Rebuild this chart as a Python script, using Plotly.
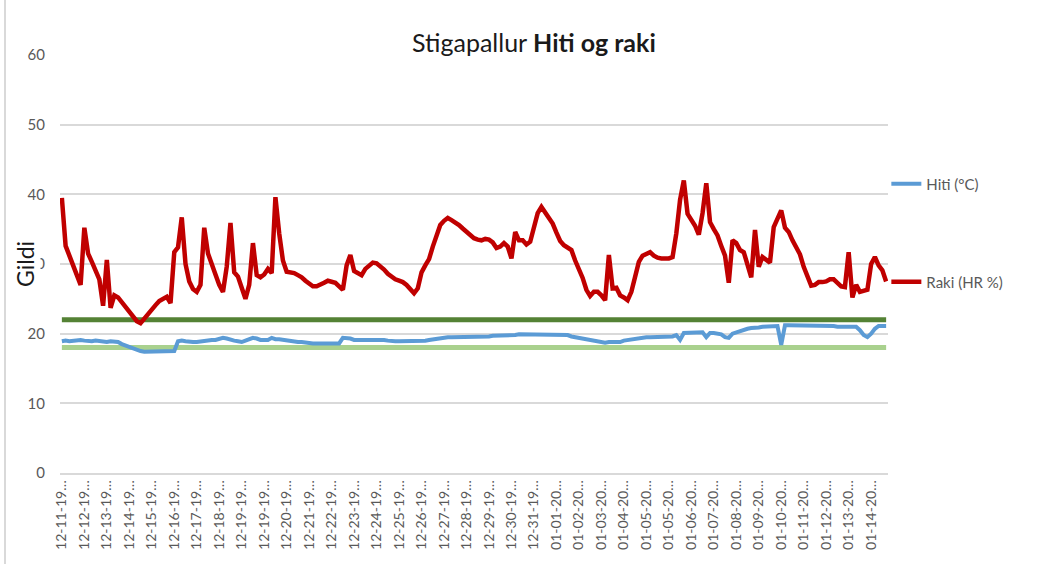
import plotly.graph_objects as go

# Category tick labels (one every 6 readings, as shown on the axis)
date_labels = [
    "12-11-19", "12-12-19", "12-13-19", "12-14-19", "12-15-19", "12-16-19",
    "12-17-19", "12-18-19", "12-19-19", "12-19-19", "12-20-19", "12-21-19",
    "12-22-19", "12-23-19", "12-24-19", "12-25-19", "12-26-19", "12-27-19",
    "12-28-19", "12-29-19", "12-30-19", "12-31-19", "01-01-20", "01-02-20",
    "01-03-20", "01-04-20", "01-05-20", "01-05-20", "01-06-20", "01-07-20",
    "01-08-20", "01-09-20", "01-10-20", "01-11-20", "01-12-20", "01-13-20",
    "01-14-20",
]
label_step = 6

# Raki (HR %)
raki = [
    39.5, 32.6, 31.2, 29.8, 28.4, 27.0, 35.2, 31.5, 30.3, 29.2,
    27.8, 24.0, 30.6, 23.7, 25.5, 25.2, 24.5, 23.9, 23.2, 22.5,
    21.8, 21.5, 22.2, 22.8, 23.4, 24.1, 24.7, 25.1, 25.3, 24.4,
    31.7, 32.4, 36.7, 30.0, 27.5, 26.4, 26.0, 27.0, 35.2, 31.5,
    29.8, 28.5, 27.0, 26.0, 29.6, 35.9, 28.8, 28.2, 26.6, 25.0,
    27.0, 33.0, 28.4, 28.1, 28.5, 29.3, 28.7, 39.6, 34.4, 30.5,
    28.9, 28.8, 28.7, 28.4, 28.1, 27.6, 27.2, 26.8, 26.8, 27.0,
    27.3, 27.6, 27.5, 27.3, 26.8, 26.3, 29.8, 31.3, 29.0, 28.7,
    28.4, 29.3, 29.8, 30.2, 30.1, 29.7, 29.2, 28.6, 28.2, 27.8,
    27.6, 27.4, 27.0, 26.5, 25.8, 26.5, 28.8, 29.8, 30.7, 32.5,
    34.0, 35.6, 36.2, 36.6, 36.3, 36.0, 35.6, 35.1, 34.6, 34.0,
    33.7, 33.5, 33.4, 33.6, 33.5, 33.1, 32.3, 32.5, 33.0, 32.5,
    30.8, 34.6, 33.4, 33.4, 32.8, 33.2, 35.5, 37.3, 38.2, 37.4,
    36.7, 35.8, 34.5, 33.3, 32.7, 32.3, 32.0, 30.5, 29.4, 28.0,
    26.3, 25.4, 26.0, 26.0, 25.5, 24.8, 31.3, 26.5, 26.6, 25.5,
    25.2, 24.8, 26.0, 28.5, 30.3, 31.2, 31.5, 31.7, 31.2, 30.9,
    30.8, 30.8, 30.8, 31.0, 34.4, 39.2, 42.0, 37.2, 36.4, 35.5,
    34.2, 37.3, 41.6, 36.0, 35.0, 34.1, 32.6, 31.2, 27.3, 33.4,
    33.0, 32.0, 31.7, 29.6, 28.1, 34.9, 29.6, 31.0, 30.6, 30.2,
    35.3, 36.7, 37.7, 35.2, 34.6, 33.4, 32.4, 31.4, 29.6, 28.0,
    26.9, 27.0, 27.4, 27.4, 27.5, 27.8, 27.8, 27.3, 26.8, 26.7,
    31.7, 25.2, 27.0, 26.0, 26.1, 26.3, 30.0, 31.0, 29.8, 29.1,
    27.5,
]

# Hiti (°C)
hiti = [
    18.9, 19.0, 18.9, 19.0, 19.1, 19.1, 19.0, 18.9, 18.9, 19.0,
    18.9, 18.8, 18.8, 18.9, 18.8, 18.8, 18.5, 18.3, 18.1, 17.9,
    17.6, 17.5, 17.4, 17.4, 17.4, 17.5, 17.4, 17.4, 17.5, 17.5,
    17.5, 18.9, 19.0, 18.9, 18.8, 18.8, 18.8, 18.9, 19.0, 19.1,
    19.1, 19.1, 19.2, 19.4, 19.3, 19.1, 19.0, 18.9, 18.8, 19.0,
    19.2, 19.4, 19.3, 19.1, 19.1, 19.1, 19.4, 19.2, 19.2, 19.1,
    19.1, 19.0, 18.9, 18.8, 18.8, 18.7, 18.6, 18.6, 18.6, 18.6,
    18.6, 18.6, 18.6, 18.6, 18.6, 19.4, 19.4, 19.3, 19.1, 19.1,
    19.1, 19.2, 19.1, 19.2, 19.2, 19.2, 19.1, 19.0, 18.9, 18.9,
    18.9, 18.9, 18.9, 18.9, 18.9, 18.9, 18.9, 19.0, 19.1, 19.2,
    19.3, 19.4, 19.5, 19.5, 19.5, 19.5, 19.5, 19.5, 19.5, 19.5,
    19.5, 19.5, 19.6, 19.6, 19.6, 19.7, 19.7, 19.7, 19.7, 19.8,
    19.8, 19.8, 19.9, 19.9, 19.9, 19.9, 19.9, 19.9, 19.9, 19.9,
    19.8, 19.8, 19.8, 19.8, 19.8, 19.8, 19.6, 19.5, 19.4, 19.3,
    19.1, 19.0, 18.9, 18.8, 18.8, 18.7, 18.8, 18.8, 18.8, 18.8,
    19.0, 19.1, 19.2, 19.3, 19.4, 19.4, 19.5, 19.5, 19.5, 19.6,
    19.5, 19.6, 19.6, 19.6, 19.8, 19.1, 20.1, 20.1, 20.1, 20.2,
    20.2, 20.2, 19.5, 20.1, 20.1, 20.0, 19.9, 19.5, 19.4, 20.0,
    20.2, 20.3, 20.5, 20.7, 20.8, 20.8, 20.9, 21.0, 21.0, 21.0,
    21.0, 21.1, 18.4, 21.2, 21.2, 21.2, 21.2, 21.1, 21.1, 21.1,
    21.1, 21.1, 21.1, 21.1, 21.1, 21.1, 21.1, 21.0, 21.0, 21.0,
    21.0, 21.0, 21.0, 20.5, 19.8, 19.5, 20.0, 20.7, 21.1, 21.1,
    21.1,
]

# Reference limits
upper_limit = 22
lower_limit = 18

n = len(raki)
x_idx = list(range(n))
tick_vals = [i * label_step for i in range(len(date_labels))]
tick_text = [d + "…" for d in date_labels]

FONT = "Lato, 'Open Sans', sans-serif"
GRAY = "#595959"

fig = go.Figure()

fig.add_trace(go.Scatter(x=[x_idx[0], x_idx[-1]], y=[upper_limit, upper_limit],
                         mode="lines", line=dict(color="#548235", width=5),
                         showlegend=False, hoverinfo="skip"))
fig.add_trace(go.Scatter(x=[x_idx[0], x_idx[-1]], y=[lower_limit, lower_limit],
                         mode="lines", line=dict(color="#A9D18E", width=5),
                         showlegend=False, hoverinfo="skip"))

fig.add_trace(go.Scatter(x=x_idx, y=hiti, mode="lines", name="Hiti (°C)",
                         line=dict(color="#5B9BD5", width=4), legend="legend"))
fig.add_trace(go.Scatter(x=x_idx, y=raki, mode="lines", name="Raki (HR %)",
                         line=dict(color="#C00000", width=4.5), legend="legend2"))

fig.update_layout(
    width=1051, height=564,
    margin=dict(l=60, r=163, t=55, b=91),
    paper_bgcolor="white", plot_bgcolor="white",
    font=dict(family=FONT, color=GRAY, size=14),
    title=dict(text="Stigapallur <b>Hiti og raki</b>", x=0.508, xanchor="center",
               y=1 - 43 / 564, yanchor="middle",
               font=dict(family=FONT, size=25, color="#1a1a1a")),
    xaxis=dict(range=[-0.5, n - 0.5], tickmode="array", tickvals=tick_vals,
               ticktext=tick_text, tickangle=-90, showgrid=False,
               showline=True, linecolor="#D9D9D9", linewidth=1.5,
               ticks="", tickfont=dict(size=14, color=GRAY), zeroline=False),
    yaxis=dict(range=[0, 60], tickmode="array", tickvals=[0, 10, 20, 30, 40, 50, 60],
               showgrid=True, gridcolor="#D9D9D9", gridwidth=1.5, zeroline=False,
               showline=False, ticks="", ticklabelstandoff=14,
               tickfont=dict(size=15, color=GRAY)),
    legend=dict(x=0.998, xanchor="left", y=(473 - 184) / 418, yanchor="middle",
                font=dict(size=15, color=GRAY), bgcolor="rgba(0,0,0,0)"),
    legend2=dict(x=0.998, xanchor="left", y=(473 - 282) / 418, yanchor="middle",
                 font=dict(size=15, color=GRAY), bgcolor="rgba(0,0,0,0)"),
    showlegend=True,
)

fig.add_annotation(text="Gildi", textangle=-90, xref="paper", yref="paper",
                   x=(25 - 60) / 828, y=0.5, xanchor="center", yanchor="middle",
                   showarrow=False, bgcolor="white",
                   font=dict(family=FONT, size=23, color="#1a1a1a"))

fig.add_shape(type="line", xref="paper", yref="paper",
              x0=(5 - 60) / 828, x1=(5 - 60) / 828, y0=(473 - 564) / 418, y1=473 / 418,
              line=dict(color="#D9D9D9", width=2))

fig.write_html("out.html", config={"displayModeBar": False},
               post_script="document.body.style.margin='0';document.body.style.overflow='hidden';")
